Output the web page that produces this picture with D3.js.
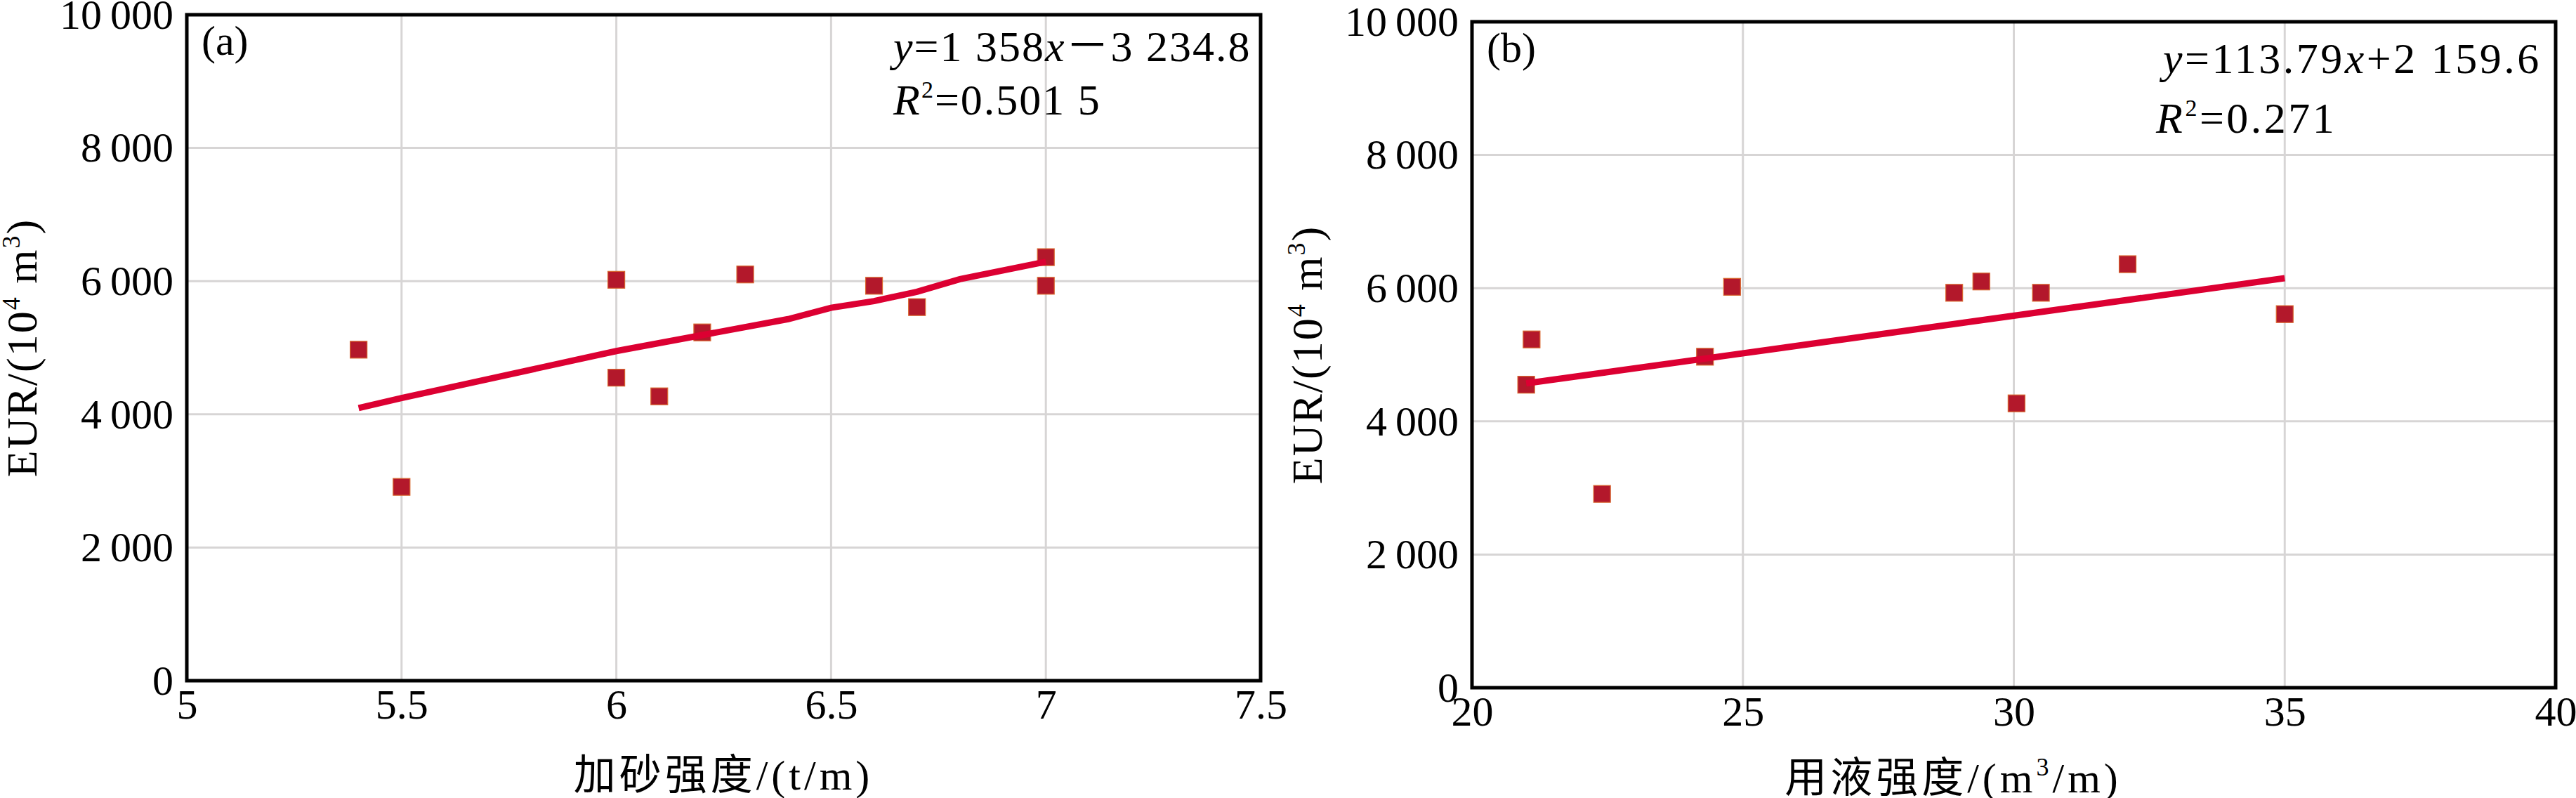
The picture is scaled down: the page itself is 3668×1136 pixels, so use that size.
<!DOCTYPE html>
<html>
<head>
<meta charset="utf-8">
<script src="https://cdn.jsdelivr.net/npm/d3@7"></script>
<style>
  html, body { margin: 0; padding: 0; background: #fff; }
  svg { display: block; }
  text { fill: #000; }
</style>
</head>
<body>
<svg id="chart" width="3668" height="1136"></svg>
<script>
// ---------- data ----------
const yTicks = [0, 2000, 4000, 6000, 8000, 10000];

// (a) sand intensity vs EUR
const aTicks = [5, 5.5, 6, 6.5, 7, 7.5];
const aX = [5.4, 5.5, 6.0, 6.0, 6.1, 6.2, 6.3, 6.6, 6.7, 7.0, 7.0];
const aY = [4970, 2910, 6020, 4550, 4270, 5230, 6100, 5930, 5610, 6360, 5930];
const aTrendX = [5.4, 5.5, 6.0, 6.2, 6.4, 6.5, 6.6, 6.7, 6.8, 7.0];
const aTrendY = [4095, 4245, 4950, 5190, 5430, 5600, 5700, 5840, 6030, 6290];

// (b) fluid intensity vs EUR
const bTicks = [20, 25, 30, 35, 40];
const bX = [21.0, 21.1, 22.4, 24.3, 24.8, 28.9, 29.4, 30.05, 30.5, 32.1, 35.0];
const bY = [4550, 5230, 2910, 4970, 6020, 5930, 6100, 4270, 5930, 6360, 5610];
const bTrendX = [21, 35];
const bTrendY = [4570, 6150];

const SERIF = "'Liberation Serif', 'Times New Roman', serif";
const CJK = "'Noto Sans CJK SC', sans-serif";

const panels = [
  { label: "(a)", ticks: aTicks, xs: aX, ys: aY, tx: aTrendX, ty: aTrendY,
    left: 266, right: 1795, top: 21, bottom: 969,
    eq: [{t: "y", i: true}, {t: "=1 358"}, {t: "x", i: true}, {t: "－", c: true}, {t: "3 234.8"}], eqLs: 2,
    r2: "=0.501 5", eqX: 1272, r2X: 1272, eqY: 87, r2Y: 163,
    xTitleX: 1030, xTitleY: 1124, yTitleX: 52 },
  { label: "(b)", ticks: bTicks, xs: bX, ys: bY, tx: bTrendX, ty: bTrendY,
    left: 2096, right: 3639, top: 31, bottom: 979,
    eq: [{t: "y", i: true}, {t: "=113.79"}, {t: "x", i: true}, {t: "+2 159.6"}], eqLs: 3.5,
    r2: "=0.271", eqX: 3080, r2X: 3070, eqY: 104, r2Y: 189,
    xTitleX: 2781, xTitleY: 1128, yTitleX: 1882 }
];

const svg = d3.select("#chart");
const fmtY = d => d === 0 ? "0" : d3.format(",")(d).replace(/,/g, "\u2009");

panels.forEach((p, idx) => {
  const x = d3.scaleLinear().domain([p.ticks[0], p.ticks[p.ticks.length - 1]]).range([p.left, p.right]);
  const y = d3.scaleLinear().domain([0, 10000]).range([p.bottom, p.top]);
  const g = svg.append("g");

  // grid
  g.append("g").selectAll("line").data(p.ticks.slice(1, -1)).join("line")
    .attr("x1", d => x(d)).attr("x2", d => x(d))
    .attr("y1", p.top).attr("y2", p.bottom)
    .attr("stroke", "#d7d5d5").attr("stroke-width", 3);
  g.append("g").selectAll("line").data(yTicks.slice(1, -1)).join("line")
    .attr("y1", d => y(d)).attr("y2", d => y(d))
    .attr("x1", p.left).attr("x2", p.right)
    .attr("stroke", "#d7d5d5").attr("stroke-width", 3);

  // axes (labels only)
  const xa = g.append("g").attr("transform", `translate(0,${p.bottom})`)
    .call(d3.axisBottom(x).tickValues(p.ticks).tickSize(0).tickPadding(11).tickFormat(d => String(d)));
  const ya = g.append("g").attr("transform", `translate(${p.left},0)`)
    .call(d3.axisLeft(y).tickValues(yTicks).tickSize(0).tickPadding(19).tickFormat(fmtY));
  [xa, ya].forEach(a => {
    a.select(".domain").remove();
    a.attr("font-family", null).attr("font-size", null);
    a.selectAll("text").style("font-family", SERIF).style("font-size", "60px").attr("fill", "#000");
  });

  // markers
  const pts = p.xs.map((v, i) => [v, p.ys[i]]);
  const ms = 24;
  g.append("g").selectAll("rect").data(pts).join("rect")
    .attr("x", d => x(d[0]) - ms / 2).attr("y", d => y(d[1]) - ms / 2)
    .attr("width", ms).attr("height", ms)
    .attr("fill", "#b3182b").attr("stroke", "#d8662e").attr("stroke-width", 1.2);

  // trend line
  const tl = p.tx.map((v, i) => [v, p.ty[i]]);
  g.append("path").datum(tl)
    .attr("d", d3.line().x(d => x(d[0])).y(d => y(d[1])))
    .attr("fill", "none").attr("stroke", "#dc0032").attr("stroke-width", 9);

  // frame
  g.append("rect").attr("x", p.left).attr("y", p.top)
    .attr("width", p.right - p.left).attr("height", p.bottom - p.top)
    .attr("fill", "none").attr("stroke", "#000").attr("stroke-width", 5);

  // panel label
  g.append("text").attr("x", p.left + 21).attr("y", p.top + 57)
    .style("font-family", SERIF).style("font-size", "60px").text(p.label);

  // equation
  const eq = g.append("text").attr("x", p.eqX).attr("y", p.eqY)
    .style("font-family", SERIF).style("font-size", "62px").style("letter-spacing", p.eqLs + "px");
  p.eq.forEach(s => {
    const ts = eq.append("tspan").text(s.t);
    if (s.i) ts.style("font-style", "italic");
    if (s.c) ts.style("font-family", CJK);
  });
  const r2 = g.append("text").attr("x", p.r2X).attr("y", p.r2Y)
    .style("font-family", SERIF).style("font-size", "62px").style("letter-spacing", p.eqLs + "px");
  r2.append("tspan").style("font-style", "italic").text("R");
  r2.append("tspan").style("font-size", "34px").attr("dy", -24).text("2");
  r2.append("tspan").attr("dy", 24).text(p.r2);

  // y title
  const yt = g.append("text")
    .attr("transform", `translate(${p.yTitleX},${(p.top + p.bottom) / 2}) rotate(-90)`)
    .attr("text-anchor", "middle")
    .style("font-family", SERIF).style("font-size", "62px").style("letter-spacing", "2px");
  yt.append("tspan").text("EUR/(10");
  yt.append("tspan").style("font-size", "36px").attr("dy", -24).text("4");
  yt.append("tspan").attr("dy", 24).text(" m");
  yt.append("tspan").style("font-size", "36px").attr("dy", -24).text("3");
  yt.append("tspan").attr("dy", 24).text(")");

  // x title
  const xt = g.append("text").attr("x", p.xTitleX).attr("y", p.xTitleY)
    .attr("text-anchor", "middle")
    .style("font-family", SERIF).style("font-size", "60px").style("letter-spacing", "5px");
  if (idx === 0) {
    xt.append("tspan").style("font-family", CJK).text("加砂强度");
    xt.append("tspan").text("/(t/m)");
  } else {
    xt.append("tspan").style("font-family", CJK).text("用液强度");
    xt.append("tspan").text("/(m");
    xt.append("tspan").style("font-size", "36px").attr("dy", -24).text("3");
    xt.append("tspan").attr("dy", 24).text("/m)");
  }
});
</script>
</body>
</html>
